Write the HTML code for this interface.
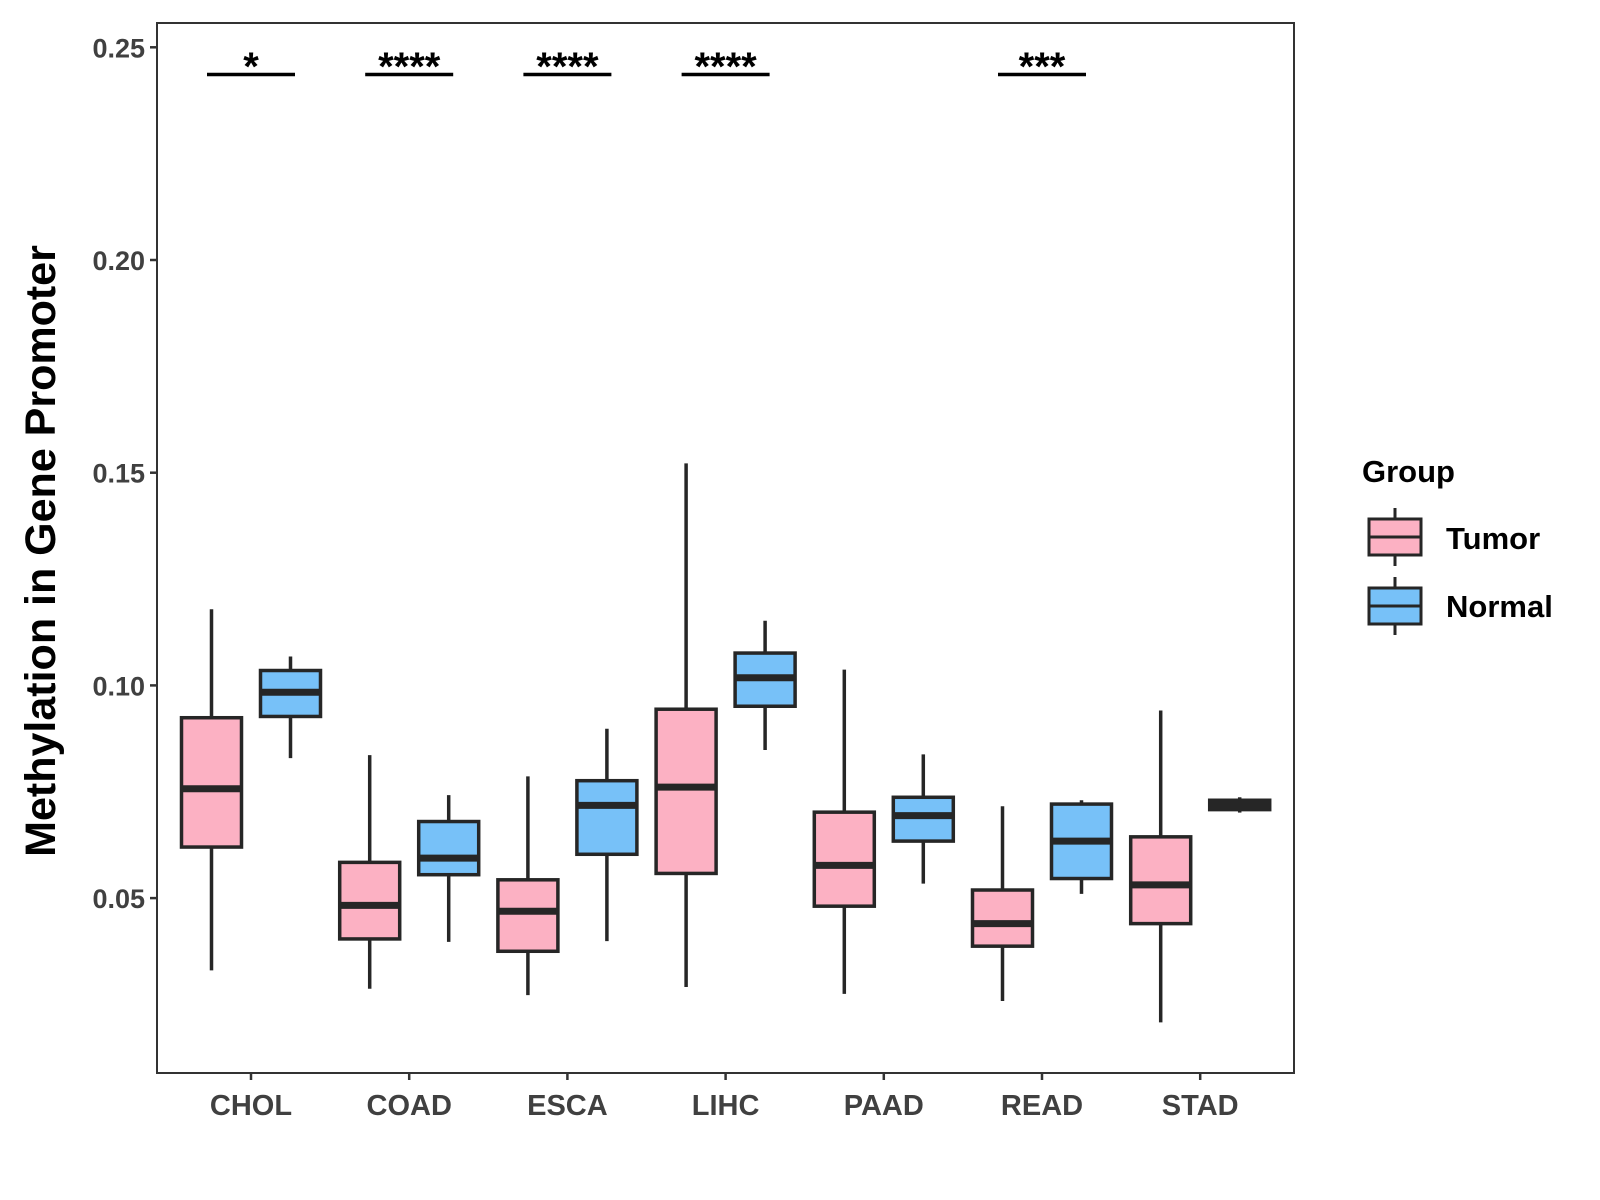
<!DOCTYPE html>
<html><head><meta charset="utf-8"><style>
html,body{margin:0;padding:0;background:#fff;}
svg{display:block;font-family:"Liberation Sans",Arial,sans-serif;}
</style></head><body>
<svg id="chart" width="1600" height="1200" viewBox="0 0 1600 1200" xmlns="http://www.w3.org/2000/svg">
<rect x="0" y="0" width="1600" height="1200" fill="#fff"/>
<g id="plot"></g>
<g id="axes"></g>
<text x="0" y="0" transform="translate(55,551) rotate(-90)" text-anchor="middle" font-size="43" font-weight="bold" fill="#000">Methylation in Gene Promoter</text>
<g>
<text x="1362" y="482" font-size="31" font-weight="bold" fill="#000">Group</text>
<g>
<line x1="1395" y1="508" x2="1395" y2="566" stroke="#262626" stroke-width="3"/>
<rect x="1369" y="519" width="52" height="36" fill="#FCB1C3" stroke="#262626" stroke-width="3"/>
<line x1="1369" y1="537" x2="1421" y2="537" stroke="#262626" stroke-width="3"/>
<text x="1446" y="549" font-size="31" font-weight="bold" fill="#000">Tumor</text>
</g>
<g>
<line x1="1395" y1="577" x2="1395" y2="635" stroke="#262626" stroke-width="3"/>
<rect x="1369" y="588" width="52" height="36" fill="#77C1F8" stroke="#262626" stroke-width="3"/>
<line x1="1369" y1="606" x2="1421" y2="606" stroke="#262626" stroke-width="3"/>
<text x="1446" y="617" font-size="31" font-weight="bold" fill="#000">Normal</text>
</g>
</g>
</svg>
<script>
const categories = ["CHOL","COAD","ESCA","LIHC","PAAD","READ","STAD"];
// [lowWhisker, q1, median, q3, highWhisker]
const tumorStats = [
 [0.0330,0.0620,0.0757,0.0924,0.1179],
 [0.0287,0.0404,0.0483,0.0584,0.0836],
 [0.0272,0.0375,0.0469,0.0543,0.0786],
 [0.0291,0.0558,0.0761,0.0944,0.1522],
 [0.0275,0.0481,0.0577,0.0702,0.1037],
 [0.0258,0.0387,0.0440,0.0519,0.0716],
 [0.0208,0.0440,0.0531,0.0644,0.0941]
];
const normalStats = [
 [0.0829,0.0927,0.0984,0.1035,0.1068],
 [0.0397,0.0555,0.0594,0.0680,0.0742],
 [0.0399,0.0603,0.0718,0.0776,0.0898],
 [0.0848,0.0951,0.1018,0.1076,0.1152],
 [0.0534,0.0634,0.0694,0.0737,0.0838],
 [0.0510,0.0546,0.0634,0.0721,0.0730],
 [0.0701,0.0708,0.0718,0.0730,0.0737]
];
const sigLabels = ["*","****","****","****","","***",""];
const yTicks = [0.05,0.10,0.15,0.20,0.25];
const yTickLabels = ["0.05","0.10","0.15","0.20","0.25"];

const NS="http://www.w3.org/2000/svg";
const panel={l:157,t:23,r:1294,b:1073};
function yScale(v){return 47.3+(0.25-v)/0.05*212.7;}
function xScale(i){return 251+i*158.2;}
const dodge=39.5, boxW=60;
function mk(tag,attrs,parent){const e=document.createElementNS(NS,tag);for(const k in attrs)e.setAttribute(k,attrs[k]);parent.appendChild(e);return e;}
const plot=document.getElementById('plot');
const axes=document.getElementById('axes');

function drawBox(cx,s,fill,name){
  const g=mk('g',{},plot);
  
  
  mk('line',{x1:cx,x2:cx,y1:yScale(s[4]),y2:yScale(s[0]),stroke:'#262626','stroke-width':3.5},g);
  mk('rect',{x:cx-boxW/2,y:yScale(s[3]),width:boxW,height:Math.max(yScale(s[1])-yScale(s[3]),1),fill:fill,stroke:'#262626','stroke-width':3.5},g);
  mk('line',{x1:cx-boxW/2,x2:cx+boxW/2,y1:yScale(s[2]),y2:yScale(s[2]),stroke:'#262626','stroke-width':7},g);
}
categories.forEach((c,i)=>{
  drawBox(xScale(i)-dodge,tumorStats[i],'#FCB1C3','box-tumor-'+c.toLowerCase());
  drawBox(xScale(i)+dodge,normalStats[i],'#77C1F8','box-normal-'+c.toLowerCase());
  if(sigLabels[i]){
    const g=mk('g',{},plot);
    
    
    mk('line',{x1:xScale(i)-44,x2:xScale(i)+44,y1:74.5,y2:74.5,stroke:'#000','stroke-width':3.5},g);
    const t=mk('text',{x:xScale(i),y:80,'text-anchor':'middle','font-size':40,'font-weight':'bold',fill:'#000'},g);
    t.textContent=sigLabels[i];
  }
  const tk=mk('line',{x1:xScale(i),x2:xScale(i),y1:panel.b,y2:panel.b+7,stroke:'#333','stroke-width':2.5},axes);
  
  
  const lb=mk('text',{x:xScale(i),y:1115,'text-anchor':'middle','font-size':29,'font-weight':'bold',fill:'#404040'},axes);
  
  
  lb.textContent=c;
});
yTicks.forEach((v,i)=>{
  const tk=mk('line',{x1:panel.l-7,x2:panel.l,y1:yScale(v),y2:yScale(v),stroke:'#333','stroke-width':2.5},axes);
  
  
  const lb=mk('text',{x:panel.l-12,y:yScale(v)+10,'text-anchor':'end','font-size':27,'font-weight':'bold',fill:'#404040'},axes);
  
  
  lb.textContent=yTickLabels[i];
});
const border=mk('rect',{x:panel.l,y:panel.t,width:panel.r-panel.l,height:panel.b-panel.t,fill:'none',stroke:'#333','stroke-width':2},axes);


</script>
</body></html>
